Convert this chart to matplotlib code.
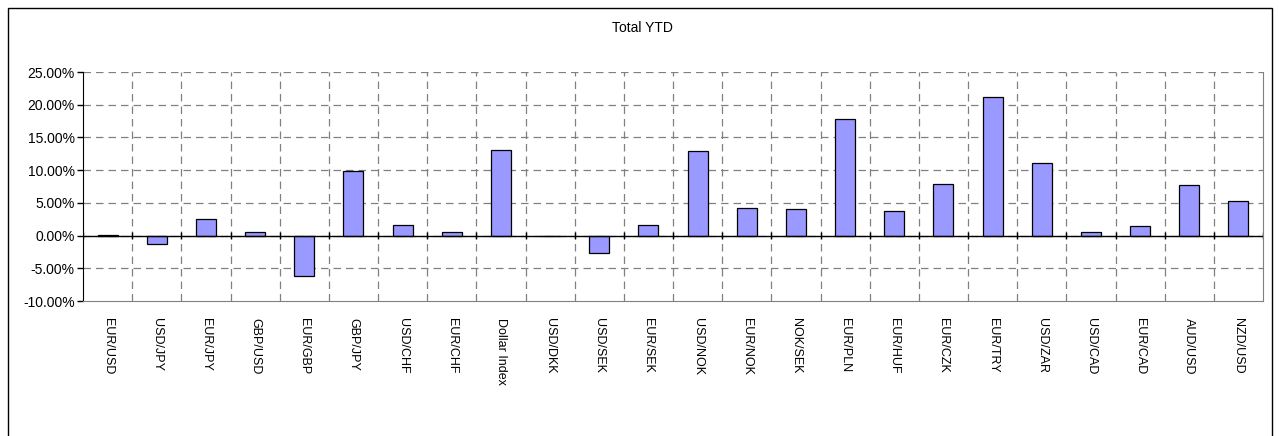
import matplotlib
matplotlib.use('Agg')
import matplotlib.pyplot as plt
import matplotlib.patches as mpatches
from matplotlib.ticker import FuncFormatter
import numpy as np

plt.rcParams['font.family'] = ['Liberation Sans', 'DejaVu Sans']

# data
pairs = ['EUR/USD', 'USD/JPY', 'EUR/JPY', 'GBP/USD', 'EUR/GBP', 'GBP/JPY',
         'USD/CHF', 'EUR/CHF', 'Dollar Index', 'USD/DKK', 'USD/SEK', 'EUR/SEK',
         'USD/NOK', 'EUR/NOK', 'NOK/SEK', 'EUR/PLN', 'EUR/HUF', 'EUR/CZK',
         'EUR/TRY', 'USD/ZAR', 'USD/CAD', 'EUR/CAD', 'AUD/USD', 'NZD/USD']
ytd = [0.1, -1.3, 2.6, 0.6, -6.2, 9.8,
       1.6, 0.6, 13.1, 0.0, -2.6, 1.6,
       12.9, 4.2, 4.1, 17.8, 3.7, 7.9,
       21.2, 11.1, 0.5, 1.4, 7.7, 5.3]
y_ticks = [-10, -5, 0, 5, 10, 15, 20, 25]

W, H = 1279, 436
fig = plt.figure(figsize=(W / 100, H / 100), dpi=100)
ax = fig.add_axes([83 / W, 1 - 301 / H, (1263 - 83) / W, (301 - 72) / H])

# outer chart frame
fig.patches.append(mpatches.Rectangle((8 / W, -0.05), (1272 - 8) / W, 1.05 - 8 / H,
                                      transform=fig.transFigure, fill=False,
                                      edgecolor='black', linewidth=1.0))

x = np.arange(len(pairs))
ax.bar(x, ytd, width=0.41, color='#9999ff', edgecolor='black', linewidth=0.9, zorder=3)

ax.set_xlim(-0.5, len(pairs) - 0.5)
ax.set_ylim(y_ticks[0], y_ticks[-1])

# grid: dashed, horizontal at majors, vertical at category boundaries
for yv in y_ticks[1:]:
    ax.axhline(yv, color='#808080', linestyle=(0, (6, 4)), linewidth=0.9, zorder=1)
for b in np.arange(0.5, len(pairs) - 1, 1.0):
    ax.axvline(b, color='#808080', linestyle=(0, (6, 4)), linewidth=0.9, zorder=1)

# category axis crossing at zero
ax.axhline(0, color='black', linewidth=1.0, zorder=4)
ax.vlines(np.arange(-0.5, len(pairs), 1.0), -0.5, 0.5, color='black', linewidth=1.0, zorder=4)

ax.set_yticks(y_ticks)
ax.yaxis.set_major_formatter(FuncFormatter(lambda v, p: f'{v:.2f}%'))
ax.tick_params(axis='y', direction='out', length=4, width=1, labelsize=10, pad=2)

ax.set_xticks(x)
ax.set_xticklabels(pairs, rotation=-90, fontsize=9, va='top', ha='center')
ax.tick_params(axis='x', length=0, pad=12)

ax.spines['left'].set_color('black')
ax.spines['top'].set_visible(False)
ax.spines['right'].set_color('#808080')
ax.spines['bottom'].set_color('#808080')

fig.text(642 / W, 1 - 28 / H, 'Total YTD', ha='center', va='center', fontsize=10)

fig.savefig('out.png', dpi=100)
